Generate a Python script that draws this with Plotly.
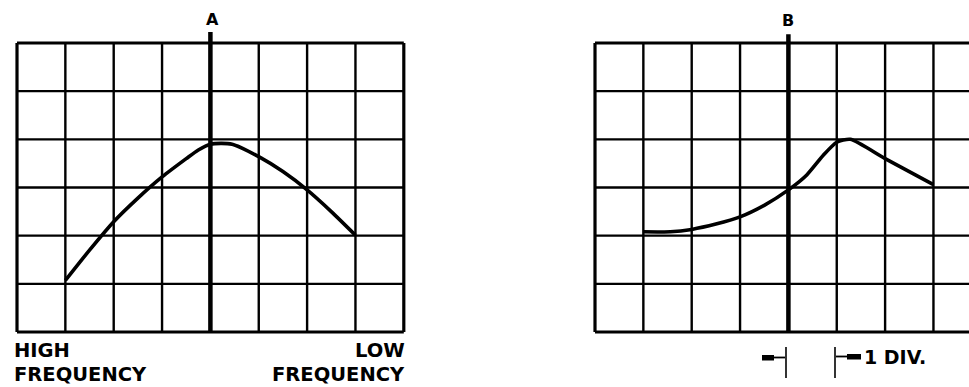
import plotly.graph_objects as go

# Oscilloscope graticule traces: response curves in graticule divisions
a_x = [1, 1.5, 2, 2.5, 3, 3.5, 3.75, 4, 4.45, 5, 5.5, 6, 6.5, 7]
a_y = [1.07, 1.7, 2.29, 2.78, 3.22, 3.6, 3.78, 3.9, 3.9, 3.64, 3.33, 2.95, 2.5, 2.01]

b_x = [1, 1.56, 2, 2.5, 3, 3.5, 4, 4.38, 4.73, 5, 5.28, 6, 7]
b_y = [2.08, 2.08, 2.13, 2.24, 2.39, 2.63, 2.95, 3.26, 3.68, 3.94, 4.0, 3.6, 3.06]

n_cols = 8
n_rows = 6

W, H = 969, 387


def px(x):
    return x / W


def py(y):
    return 1 - y / H


fig = go.Figure()
fig.add_trace(go.Scatter(x=a_x, y=a_y, mode="lines", xaxis="x", yaxis="y",
                         line=dict(color="black", width=3.6, shape="spline", smoothing=0.7),
                         hoverinfo="skip"))
fig.add_trace(go.Scatter(x=b_x, y=b_y, mode="lines", xaxis="x2", yaxis="y2",
                         line=dict(color="black", width=3.6, shape="spline", smoothing=0.6),
                         hoverinfo="skip"))

shapes = []


def graticule(xr, yr, center_top):
    for i in range(n_cols + 1):
        w = 3.2 if i in (0, n_cols) else 2.4
        shapes.append(dict(type="line", xref=xr, yref=yr, x0=i, x1=i, y0=0, y1=n_rows,
                           line=dict(color="black", width=w)))
    for j in range(n_rows + 1):
        w = 3.2 if j in (0, n_rows) else 2.4
        shapes.append(dict(type="line", xref=xr, yref=yr, x0=0, x1=n_cols, y0=j, y1=j,
                           line=dict(color="black", width=w)))
    # heavy centre reference line
    shapes.append(dict(type="line", xref=xr, yref=yr, x0=4, x1=4, y0=0, y1=center_top,
                       line=dict(color="black", width=4.5)))


graticule("x", "y", 6.23)
graticule("x2", "y2", 6.18)

# one-division markers below trace B
for bx in (786, 835):
    shapes.append(dict(type="line", xref="paper", yref="paper", x0=px(bx), x1=px(bx),
                       y0=py(347), y1=py(378), line=dict(color="black", width=1.6)))
shapes.append(dict(type="line", xref="paper", yref="paper", x0=px(773), x1=px(785),
                   y0=py(357.5), y1=py(357.5), line=dict(color="black", width=1.8)))
shapes.append(dict(type="rect", xref="paper", yref="paper", x0=px(762), x1=px(774),
                   y0=py(360.5), y1=py(355), line=dict(width=0), fillcolor="black"))
shapes.append(dict(type="line", xref="paper", yref="paper", x0=px(836), x1=px(848),
                   y0=py(356.5), y1=py(356.5), line=dict(color="black", width=1.8)))
shapes.append(dict(type="rect", xref="paper", yref="paper", x0=px(847), x1=px(861),
                   y0=py(359.5), y1=py(354), line=dict(width=0), fillcolor="black"))

font_lbl = dict(family="DejaVu Sans", size=19.5, color="black")
font_div = dict(family="DejaVu Sans", size=19, color="black")
font_hdr = dict(family="DejaVu Sans", size=16, color="black")


def label(text, x, y, xanchor, font):
    return dict(text=f"<b>{text}</b>", x=px(x), y=py(y), xref="paper", yref="paper",
                xanchor=xanchor, yanchor="middle", showarrow=False, font=font,
                borderpad=0)


annotations = [
    label("A", 212, 19, "center", font_hdr),
    label("B", 788, 20, "center", font_hdr),
    label("HIGH", 13, 350.5, "left", font_lbl),
    label("FREQUENCY", 13, 374, "left", font_lbl),
    label("LOW", 406, 350.5, "right", font_lbl),
    label("FREQUENCY", 406, 374, "right", font_lbl),
    label("1 DIV.", 863, 357, "left", font_div),
]

# pixel geometry of the two graticules
unit_x = 48.35
unit_y = 48.17
y_lo, y_hi = -0.2, 6.3
y_top_px = 43 - (y_hi - n_rows) * unit_y
y_bot_px = 332 - y_lo * unit_y
ydom = [py(y_bot_px), py(y_top_px)]

ax_common = dict(visible=False, showgrid=False, zeroline=False, fixedrange=True)

xl_lo, xl_hi = -0.1, 8.1
xaxis = dict(ax_common, range=[xl_lo, xl_hi],
             domain=[px(17 + xl_lo * unit_x), px(17 + xl_hi * unit_x)])
xr_lo = -0.1
xr_hi = (W - 595) / unit_x
xaxis2 = dict(ax_common, range=[xr_lo, xr_hi],
              domain=[px(595 + xr_lo * unit_x), 1])

fig.update_layout(
    width=W, height=H,
    margin=dict(l=0, r=0, t=0, b=0),
    paper_bgcolor="white", plot_bgcolor="white",
    showlegend=False,
    xaxis=xaxis,
    yaxis=dict(ax_common, range=[y_lo, y_hi], domain=ydom),
    xaxis2=xaxis2,
    yaxis2=dict(ax_common, range=[y_lo, y_hi], domain=ydom),
    shapes=shapes,
    annotations=annotations,
)

fig.write_html("out.html", config=dict(displayModeBar=False))
